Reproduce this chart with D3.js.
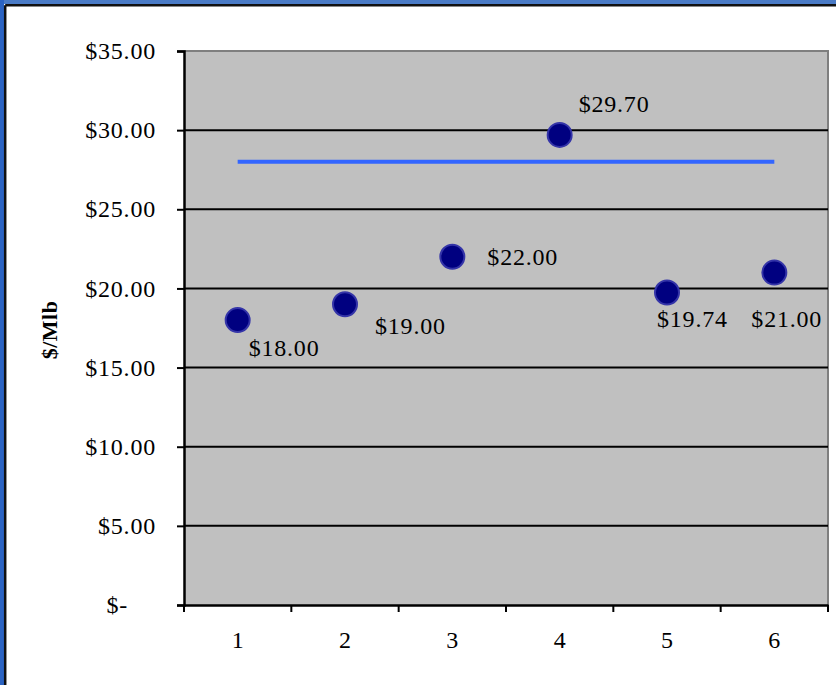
<!DOCTYPE html>
<html>
<head>
<meta charset="utf-8">
<script src="https://cdn.jsdelivr.net/npm/d3@7"></script>
<style>
  html, body { margin: 0; padding: 0; background: #ffffff; }
  svg { display: block; }
  text { font-family: "Liberation Serif", "Times New Roman", serif; fill: #000; }
</style>
</head>
<body>
<svg id="chart" width="836" height="685"></svg>
<script>
// Categories along the x axis
const categories = ["1", "2", "3", "4", "5", "6"];
// Price per category ($/Mlb)
const prices = [18.00, 19.00, 22.00, 29.70, 19.74, 21.00];
// Reference level drawn as a flat line
const reference = [28, 28, 28, 28, 28, 28];
// Y axis tick values
const yTicks = [0, 5, 10, 15, 20, 25, 30, 35];
// Label placement per point: dx/dy offsets from the marker centre
const labelPlacement = [
  { dx: 11, dy: 36 },
  { dx: 30, dy: 30 },
  { dx: 35, dy: 8 },
  { dx: 19, dy: -23 },
  { dx: -10, dy: 34 },
  { dx: -23, dy: 54 }
];

const FONT = '"Liberation Serif", "Times New Roman", serif';
const svg = d3.select("#chart");
const W = 836, H = 685;

// Frame: blue edges with a dark rule, white panel
svg.append("rect").attr("x", 0).attr("y", 0).attr("width", W).attr("height", H).attr("fill", "#ffffff");
svg.append("rect").attr("x", 0).attr("y", 0).attr("width", W).attr("height", 4).attr("fill", "#4a7bc6");
svg.append("rect").attr("x", 0).attr("y", 0).attr("width", 4).attr("height", H).attr("fill", "#2b63c2");
svg.append("line").attr("x1", 5.2).attr("x2", W).attr("y1", 5.2).attr("y2", 5.2).attr("stroke", "#111").attr("stroke-width", 2.5);
svg.append("line").attr("x1", 5.2).attr("x2", 5.2).attr("y1", 5.2).attr("y2", H).attr("stroke", "#111").attr("stroke-width", 2.5);

const plot = { left: 184, top: 51, right: 828, bottom: 605 };

const x = d3.scaleBand().domain(categories).range([plot.left, plot.right]).padding(0);
const y = d3.scaleLinear().domain([0, 35]).range([plot.bottom, plot.top]);

// Plot background
svg.append("rect")
  .attr("x", plot.left).attr("y", plot.top)
  .attr("width", plot.right - plot.left).attr("height", plot.bottom - plot.top)
  .attr("fill", "#c0c0c0");
// Gray border on top and right
svg.append("path")
  .attr("d", `M${plot.left},${plot.top}H${plot.right}V${plot.bottom}`)
  .attr("fill", "none").attr("stroke", "#7f7f7f").attr("stroke-width", 2);

// Horizontal gridlines
svg.append("g").selectAll("line")
  .data(yTicks.filter(v => v > 0 && v < 35))
  .join("line")
  .attr("x1", plot.left).attr("x2", plot.right)
  .attr("y1", d => y(d)).attr("y2", d => y(d))
  .attr("stroke", "#000").attr("stroke-width", 2);

const fmt = v => v === 0 ? "$-" : "$" + d3.format(".2f")(v);

// Y axis
const yAxis = svg.append("g")
  .attr("transform", `translate(${plot.left},0)`)
  .call(d3.axisLeft(y).tickValues(yTicks).tickSize(7).tickPadding(21).tickFormat(fmt));
yAxis.attr("font-family", FONT).attr("font-size", 24);
yAxis.select(".domain").attr("stroke", "#000").attr("stroke-width", 2.5);
yAxis.selectAll(".tick line").attr("stroke", "#000").attr("stroke-width", 2);
yAxis.selectAll(".tick text")
  .attr("letter-spacing", 0.8)
  .attr("fill", "#000")
  .attr("dx", d => d === 0 ? -28 : 0);

// X axis
const xAxis = svg.append("g")
  .attr("transform", `translate(0,${plot.bottom})`)
  .call(d3.axisBottom(x).tickSize(0).tickPadding(26));
xAxis.attr("font-family", FONT).attr("font-size", 24);
xAxis.select(".domain").attr("stroke", "#000").attr("stroke-width", 2.5);
xAxis.selectAll(".tick text").attr("fill", "#000");
// Tick marks at band boundaries
const bounds = categories.map(c => x(c)).concat([x(categories[categories.length - 1]) + x.bandwidth()]);
xAxis.append("g").selectAll("line")
  .data(bounds)
  .join("line")
  .attr("x1", d => d).attr("x2", d => d)
  .attr("y1", 0).attr("y2", 7)
  .attr("stroke", "#000").attr("stroke-width", 2);

// Y axis title
svg.append("text")
  .attr("transform", `translate(57,330) rotate(-90)`)
  .attr("text-anchor", "middle")
  .attr("font-family", FONT)
  .attr("font-size", 22).attr("font-weight", "bold").attr("letter-spacing", 0.5)
  .text("$/Mlb");

const cx = c => x(c) + x.bandwidth() / 2;

// Reference line
svg.append("path")
  .datum(reference)
  .attr("d", d3.line().x((d, i) => cx(categories[i])).y(d => y(d)))
  .attr("fill", "none").attr("stroke", "#3366ff").attr("stroke-width", 4);

// Price markers
svg.append("g").selectAll("circle")
  .data(prices)
  .join("circle")
  .attr("cx", (d, i) => cx(categories[i]))
  .attr("cy", d => y(d))
  .attr("r", 12)
  .attr("fill", "#000080")
  .attr("stroke", "#3434a8").attr("stroke-width", 2);

// Value labels
svg.append("g").selectAll("text")
  .data(prices)
  .join("text")
  .attr("x", (d, i) => cx(categories[i]) + labelPlacement[i].dx)
  .attr("y", (d, i) => y(d) + labelPlacement[i].dy)
  .attr("font-family", FONT)
  .attr("font-size", 24).attr("letter-spacing", 0.8)
  .text(d => "$" + d3.format(".2f")(d));
</script>
</body>
</html>
